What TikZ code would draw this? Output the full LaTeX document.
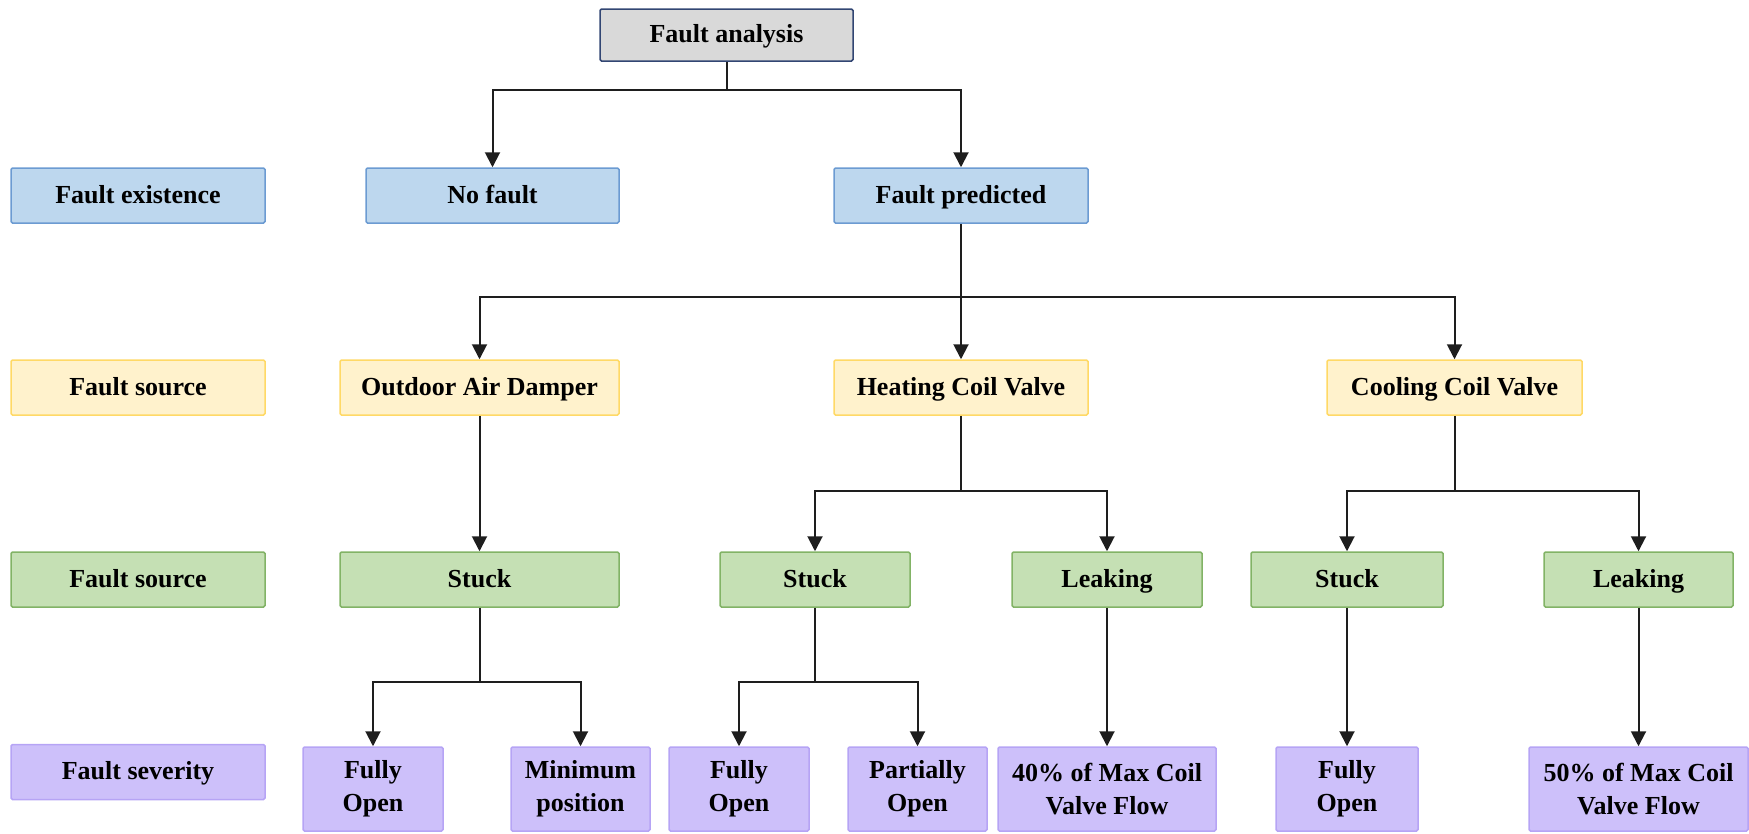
\documentclass[tikz,border=0pt]{standalone}
\usepackage{fontspec}
\setmainfont{Liberation Serif}
\usetikzlibrary{arrows.meta}
\definecolor{grayfill}{RGB}{217,217,217}
\definecolor{grayline}{RGB}{50,70,115}
\definecolor{bluefill}{RGB}{189,215,238}
\definecolor{blueline}{RGB}{108,155,210}
\definecolor{yelfill}{RGB}{255,242,204}
\definecolor{yelline}{RGB}{255,217,102}
\definecolor{grnfill}{RGB}{197,224,180}
\definecolor{grnline}{RGB}{130,179,102}
\definecolor{purfill}{RGB}{205,192,250}
\definecolor{purline}{RGB}{182,164,245}
\definecolor{conn}{RGB}{30,30,30}
\tikzset{
  box/.style={rectangle, rounded corners=1.5pt, line width=1.5pt, inner sep=0pt, align=center,
    font=\fontsize{26}{33}\selectfont\bfseries},
  one/.style={text height=19pt, text depth=4pt},
  gbox/.style={box, one, fill=grayfill, draw=grayline},
  bbox/.style={box, one, fill=bluefill, draw=blueline},
  ybox/.style={box, one, fill=yelfill, draw=yelline},
  nbox/.style={box, one, fill=grnfill, draw=grnline},
  pbox/.style={box, fill=purfill, draw=purline},
  conn/.style={draw=conn, line width=2pt, -{Triangle[width=15pt,length=15pt]}},
  plain/.style={draw=conn, line width=2pt}
}
\begin{document}
\begin{tikzpicture}[x=1pt,y=-1pt]
\useasboundingbox (0,0) rectangle (1749,833);
% row 1
\node[gbox, minimum width=253pt, minimum height=52pt] (fa) at (726.5,35) {Fault analysis};
% row 2
\node[bbox, minimum width=254pt, minimum height=55pt] (lex) at (138,195.5) {Fault existence};
\node[bbox, minimum width=253pt, minimum height=55pt] (nf) at (492.5,195.5) {No fault};
\node[bbox, minimum width=254pt, minimum height=55pt] (fp) at (961,195.5) {Fault predicted};
% row 3
\node[ybox, minimum width=254pt, minimum height=55pt] (lsrc) at (138,387.5) {Fault source};
\node[ybox, minimum width=279pt, minimum height=55pt] (oad) at (479.5,387.5) {Outdoor Air Damper};
\node[ybox, minimum width=254pt, minimum height=55pt] (hcv) at (961,387.5) {Heating Coil Valve};
\node[ybox, minimum width=255pt, minimum height=55pt] (ccv) at (1454.5,387.5) {Cooling Coil Valve};
% row 4
\node[nbox, minimum width=254pt, minimum height=55pt] (lsrc2) at (138,579.5) {Fault source};
\node[nbox, minimum width=279pt, minimum height=55pt] (s1) at (479.5,579.5) {Stuck};
\node[nbox, minimum width=190pt, minimum height=55pt] (s2) at (815,579.5) {Stuck};
\node[nbox, minimum width=190pt, minimum height=55pt] (l1) at (1107,579.5) {Leaking};
\node[nbox, minimum width=192pt, minimum height=55pt] (s3) at (1347,579.5) {Stuck};
\node[nbox, minimum width=189pt, minimum height=55pt] (l2) at (1638.5,579.5) {Leaking};
% row 5
\node[pbox, one, minimum width=254pt, minimum height=55pt] (lsev) at (138,772) {Fault severity};
\node[pbox, minimum width=140pt, minimum height=84pt] (fo1) at (373,789) {Fully\\Open};
\node[pbox, minimum width=139pt, minimum height=84pt] (mp) at (580.5,789) {Minimum\\position};
\node[pbox, minimum width=140pt, minimum height=84pt] (fo2) at (739,789) {Fully\\Open};
\node[pbox, minimum width=139pt, minimum height=84pt] (po) at (917.5,789) {Partially\\Open};
\node[pbox, minimum width=218pt, minimum height=84pt] (v40) at (1107,789) {40\% of Max Coil\\Valve Flow};
\node[pbox, minimum width=142pt, minimum height=84pt] (fo3) at (1347,789) {Fully\\Open};
\node[pbox, minimum width=219pt, minimum height=84pt] (v50) at (1638.5,789) {50\% of Max Coil\\Valve Flow};
% branch points
\coordinate (b1) at (726.5,90);
\coordinate (b2) at (961,297);
\coordinate (b3) at (961,491);
\coordinate (b4) at (1454.5,491);
\coordinate (b5) at (479.5,682);
\coordinate (b6) at (815,682);
% connectors
\draw[plain] (fa.south) -- (b1);
\draw[conn] (b1) -| (nf.north);
\draw[conn] (b1) -| (fp.north);
\draw[plain] (fp.south) -- (b2);
\draw[conn] (b2) -| (oad.north);
\draw[conn] (b2) -- (hcv.north);
\draw[conn] (b2) -| (ccv.north);
\draw[conn] (oad.south) -- (s1.north);
\draw[plain] (hcv.south) -- (b3);
\draw[conn] (b3) -| (s2.north);
\draw[conn] (b3) -| (l1.north);
\draw[plain] (ccv.south) -- (b4);
\draw[conn] (b4) -| (s3.north);
\draw[conn] (b4) -| (l2.north);
\draw[plain] (s1.south) -- (b5);
\draw[conn] (b5) -| (fo1.north);
\draw[conn] (b5) -| (mp.north);
\draw[plain] (s2.south) -- (b6);
\draw[conn] (b6) -| (fo2.north);
\draw[conn] (b6) -| (po.north);
\draw[conn] (l1.south) -- (v40.north);
\draw[conn] (s3.south) -- (fo3.north);
\draw[conn] (l2.south) -- (v50.north);
\end{tikzpicture}
\end{document}
